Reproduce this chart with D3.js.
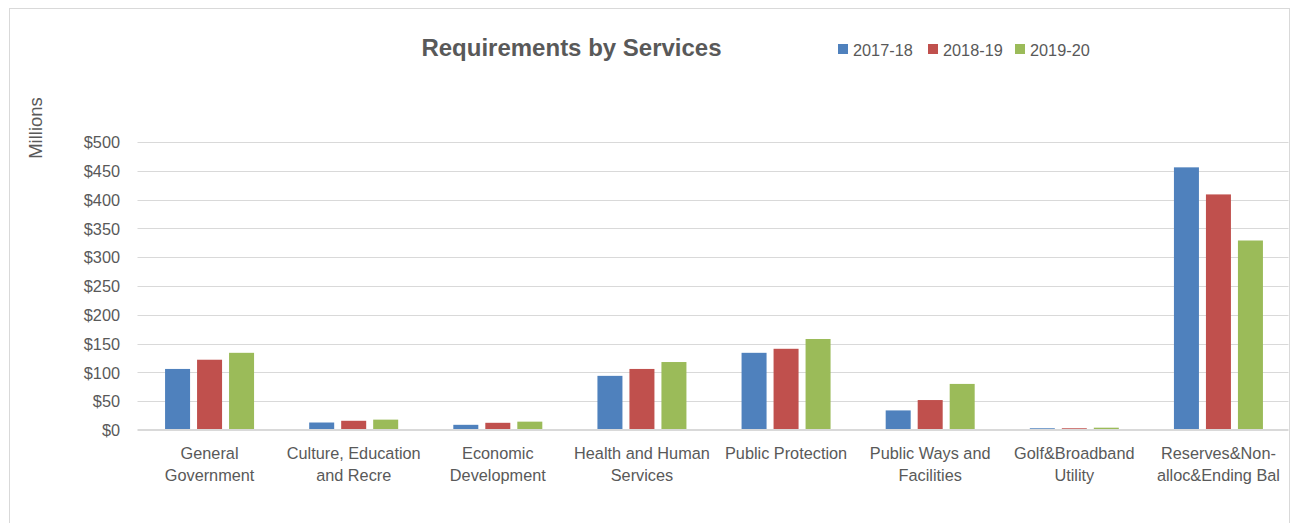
<!DOCTYPE html>
<html>
<head>
<meta charset="utf-8">
<script src="https://cdn.jsdelivr.net/npm/d3@7"></script>
<style>
  html, body { margin: 0; padding: 0; background: #fff; }
  svg { display: block; }
  text { font-family: "Liberation Sans", Arial, sans-serif; fill: #595959; }
</style>
</head>
<body>
<svg id="chart" width="1293" height="523"></svg>
<script>
const categories = [
  ["General", "Government"],
  ["Culture, Education", "and Recre"],
  ["Economic", "Development"],
  ["Health and Human", "Services"],
  ["Public Protection"],
  ["Public Ways and", "Facilities"],
  ["Golf&Broadband", "Utility"],
  ["Reserves&Non-", "alloc&Ending Bal"]
];
const seriesNames = ["2017-18", "2018-19", "2019-20"];
const seriesColors = ["#4F81BD", "#C0504D", "#9BBB59"];
const values2017 = [106, 13, 9, 94, 134, 34, 3, 456];
const values2018 = [122, 16, 12.5, 106, 141, 52, 3, 409];
const values2019 = [134, 18, 14.5, 118, 158, 80, 4, 329];
const yTicks = [0, 50, 100, 150, 200, 250, 300, 350, 400, 450, 500];
const titleText = "Requirements by Services";
const yAxisTitle = "Millions";

const seriesValues = [values2017, values2018, values2019];
const svg = d3.select("#chart");

// outer frame
svg.append("rect")
  .attr("x", 9.5).attr("y", 8.5)
  .attr("width", 1280).attr("height", 530)
  .attr("fill", "#fff").attr("stroke", "#d9d9d9").attr("stroke-width", 1);

const plot = { left: 137.5, right: 1290.5, top: 142, bottom: 430 };

const x = d3.scaleBand()
  .domain(d3.range(categories.length))
  .range([plot.left, plot.right])
  .padding(0);

const y = d3.scaleLinear()
  .domain([0, 500])
  .range([plot.bottom, plot.top]);

const groupHalf = 44.5;
const xInner = d3.scaleBand()
  .domain(d3.range(seriesNames.length))
  .range([-groupHalf, groupHalf])
  .paddingInner(0.21875)
  .paddingOuter(0);

// gridlines
svg.append("g")
  .selectAll("line")
  .data(yTicks.filter(d => d > 0))
  .join("line")
  .attr("x1", plot.left).attr("x2", plot.right - 2)
  .attr("y1", d => Math.round(y(d)) + 0.5)
  .attr("y2", d => Math.round(y(d)) + 0.5)
  .attr("stroke", "#d9d9d9").attr("stroke-width", 1);

// y axis labels
const yAxis = d3.axisLeft(y)
  .tickValues(yTicks)
  .tickFormat(d => "$" + d)
  .tickSize(0)
  .tickPadding(0);
const yg = svg.append("g")
  .attr("transform", `translate(120,0)`)
  .call(yAxis);
yg.select(".domain").remove();
yg.selectAll("text")
  .attr("font-size", "16.3px")
  .attr("font-family", "Liberation Sans, Arial, sans-serif")
  .attr("fill", "#595959")
  .attr("dy", "0.35em");

// bars
const barData = [];
categories.forEach((c, i) => {
  seriesValues.forEach((vals, s) => {
    barData.push({ ci: i, si: s, v: vals[i] });
  });
});
svg.append("g")
  .selectAll("rect")
  .data(barData)
  .join("rect")
  .attr("x", d => x(d.ci) + x.bandwidth() / 2 + xInner(d.si))
  .attr("width", xInner.bandwidth())
  .attr("y", d => y(d.v))
  .attr("height", d => y(0) - y(d.v))
  .attr("fill", d => seriesColors[d.si]);

// zero axis line
svg.append("line")
  .attr("x1", plot.left).attr("x2", plot.right - 2)
  .attr("y1", y(0)).attr("y2", y(0))
  .attr("stroke", "#d9d9d9").attr("stroke-width", 2);

// category labels
const xl = svg.append("g");
categories.forEach((lines, i) => {
  const t = xl.append("text")
    .attr("x", x(i) + x.bandwidth() / 2)
    .attr("y", 459)
    .attr("text-anchor", "middle")
    .attr("font-size", "16.3px");
  lines.forEach((ln, k) => {
    t.append("tspan")
      .attr("x", x(i) + x.bandwidth() / 2)
      .attr("dy", k === 0 ? 0 : 22)
      .text(ln);
  });
});

// y axis title
svg.append("text")
  .attr("transform", "translate(41.5,128) rotate(-90)")
  .attr("text-anchor", "middle")
  .attr("font-size", "18.5px")
  .text(yAxisTitle);

// title
svg.append("text")
  .attr("x", 571.5).attr("y", 56)
  .attr("text-anchor", "middle")
  .attr("font-size", "24px")
  .attr("font-weight", "bold")
  .text(titleText);

// legend
const legendX = [838, 928, 1015];
const lg = svg.append("g");
seriesNames.forEach((name, i) => {
  lg.append("rect")
    .attr("x", legendX[i]).attr("y", 44)
    .attr("width", 10).attr("height", 10)
    .attr("fill", seriesColors[i]);
  lg.append("text")
    .attr("x", legendX[i] + 15).attr("y", 55.5)
    .attr("font-size", "16.3px")
    .text(name);
});
</script>
</body>
</html>
